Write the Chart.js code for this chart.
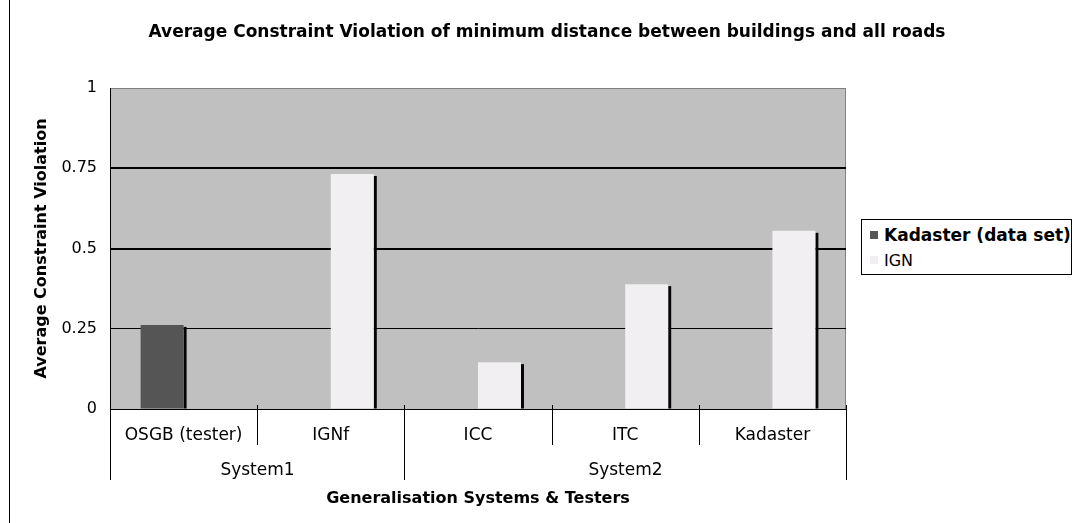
<!DOCTYPE html>
<html>
<head>
<meta charset="utf-8">
<script src="https://cdn.jsdelivr.net/npm/chart.js@4"></script>
<style>
  body { margin: 0; background: #fff; }
  #wrap { position: relative; width: 1072px; height: 523px; }
  #frame { position: absolute; left: 9px; top: 0; width: 1px; height: 523px; background: #000; }
  #legend {
    position: absolute; left: 861px; top: 219px; width: 209px; height: 54px;
    border: 1px solid #000; background: #fff; font-family: "DejaVu Sans", sans-serif; color: #000;
  }
  .item { position: absolute; left: 8px; height: 20px; line-height: 20px; white-space: nowrap; }
  .swatch { display: inline-block; width: 8px; height: 8px; margin-right: 6px; vertical-align: 2px; }
</style>
</head>
<body>
<div id="wrap">
  <canvas id="chart" width="1072" height="523"></canvas>
  <div id="frame"></div>
  <div id="legend"></div>
</div>
<script>
const categories = ['OSGB (tester)', 'IGNf', 'ICC', 'ITC', 'Kadaster'];
const groupNames = ['System1', 'System2'];
const groupStarts = [0, 2, 5]; // boundaries between groups, as category indexes
const kadasterValues = [0.262, null, null, null, null];
const ignValues = [null, 0.732, 0.146, 0.389, 0.555];
const yTicks = [0, 0.25, 0.5, 0.75, 1];

const seriesNames = ['Kadaster (data set)', 'IGN'];
const seriesColors = ['#555555', '#f1eff1'];

const FONT = '"DejaVu Sans", sans-serif';

// legend as html, first entry is bold in the original
const legendElem = document.getElementById('legend');
seriesNames.forEach((name, i) => {
  const item = document.createElement('div');
  item.className = 'item';
  item.style.top = (i === 0 ? 5 : 31) + 'px';
  item.style.fontWeight = i === 0 ? 'bold' : 'normal';
  item.style.fontSize = i === 0 ? '17px' : '16px';
  const sw = document.createElement('span');
  sw.className = 'swatch';
  sw.style.background = seriesColors[i];
  item.appendChild(sw);
  item.appendChild(document.createTextNode(name));
  legendElem.appendChild(item);
});

const plotBackground = {
  id: 'plotBackground',
  beforeDraw: (chart) => {
    const { ctx, chartArea: a } = chart;
    ctx.save();
    ctx.fillStyle = '#c0c0c0';
    ctx.fillRect(a.left, a.top, a.right - a.left, a.bottom - a.top);
    ctx.strokeStyle = '#808080';
    ctx.lineWidth = 1;
    ctx.beginPath();
    ctx.moveTo(a.left, a.top + 0.5);
    ctx.lineTo(a.right - 0.5, a.top + 0.5);
    ctx.lineTo(a.right - 0.5, a.bottom);
    ctx.stroke();
    ctx.restore();
  }
};

// black drop shadow on the right of each bar
const barShadow = {
  id: 'barShadow',
  beforeDatasetsDraw: (chart) => {
    const ctx = chart.ctx;
    ctx.save();
    ctx.fillStyle = '#050505';
    chart.data.datasets.forEach((ds, di) => {
      chart.getDatasetMeta(di).data.forEach((bar, i) => {
        if (ds.data[i] === null) return;
        const { x, y, base, width } = bar.getProps(['x', 'y', 'base', 'width'], true);
        ctx.fillRect(x + width / 2, y + 2, 3, base - y - 2);
      });
    });
    ctx.restore();
  }
};

// category separators and the second level of labels (System1 / System2)
const groupAxis = {
  id: 'groupAxis',
  afterDraw: (chart) => {
    const { ctx, chartArea: a } = chart;
    const xScale = chart.scales.x;
    const half = (xScale.getPixelForValue(1) - xScale.getPixelForValue(0)) / 2;
    const edge = (i) => Math.round(xScale.getPixelForValue(0) - half + i * half * 2) + 0.5;
    ctx.save();
    ctx.strokeStyle = '#000';
    ctx.lineWidth = 1;
    for (let i = 0; i <= categories.length; i++) {
      const isGroup = groupStarts.includes(i);
      ctx.beginPath();
      ctx.moveTo(edge(i), a.bottom - 4);
      ctx.lineTo(edge(i), a.bottom + (isGroup ? 71 : 36));
      ctx.stroke();
    }
    ctx.fillStyle = '#000';
    ctx.font = '17px ' + FONT;
    ctx.textAlign = 'center';
    ctx.textBaseline = 'middle';
    groupNames.forEach((name, g) => {
      const mid = (edge(groupStarts[g]) + edge(groupStarts[g + 1])) / 2;
      ctx.fillText(name, mid, a.bottom + 62);
    });
    ctx.restore();
  }
};

new Chart(document.getElementById('chart'), {
  type: 'bar',
  data: {
    labels: categories,
    datasets: [
      { label: seriesNames[0], data: kadasterValues, backgroundColor: seriesColors[0] },
      { label: seriesNames[1], data: ignValues, backgroundColor: seriesColors[1] }
    ]
  },
  options: {
    responsive: false,
    animation: false,
    datasets: { bar: { categoryPercentage: 0.584, barPercentage: 1 } },
    layout: { padding: { left: 22, right: 0, top: 0, bottom: 0 } },
    plugins: {
      legend: { display: false },
      tooltip: { enabled: false },
      title: {
        display: true,
        text: 'Average Constraint Violation of minimum distance between buildings and all roads',
        color: '#000',
        font: { family: FONT, size: 17, weight: 'bold' },
        padding: { top: 22, bottom: 45.6 }
      }
    },
    scales: {
      x: {
        grid: { display: false },
        border: { display: true, color: '#000', width: 1 },
        ticks: { color: '#000', font: { family: FONT, size: 17 }, padding: 8, maxRotation: 0 },
        title: {
          display: true,
          text: 'Generalisation Systems & Testers',
          color: '#000',
          font: { family: FONT, size: 16, weight: 'bold' },
          padding: { top: 0, bottom: 15 }
        },
        afterFit: (scale) => { scale.height = 114; }
      },
      y: {
        min: 0,
        max: 1,
        afterBuildTicks: (scale) => { scale.ticks = yTicks.map(v => ({ value: v })); },
        grid: {
          drawTicks: false,
          color: (c) => c.tick && c.tick.value === 1 ? '#808080' : '#000',
          lineWidth: (c) => c.tick && (c.tick.value === 0.5 || c.tick.value === 0.75) ? 2 : 1
        },
        border: { display: true, color: '#000', width: 1 },
        ticks: { color: '#000', font: { family: FONT, size: 16 }, padding: 13, callback: (v) => String(v) },
        title: {
          display: true,
          text: 'Average Constraint Violation',
          color: '#000',
          font: { family: FONT, size: 16, weight: 'bold' },
          padding: { top: 10, bottom: 0 }
        },
        afterFit: (scale) => { scale.width = 88; }
      },
      yRight: {
        position: 'right',
        display: true,
        grid: { display: false },
        border: { display: false },
        ticks: { display: false },
        afterFit: (scale) => { scale.width = 226; }
      }
    }
  },
  plugins: [plotBackground, barShadow, groupAxis]
});
</script>
</body>
</html>
